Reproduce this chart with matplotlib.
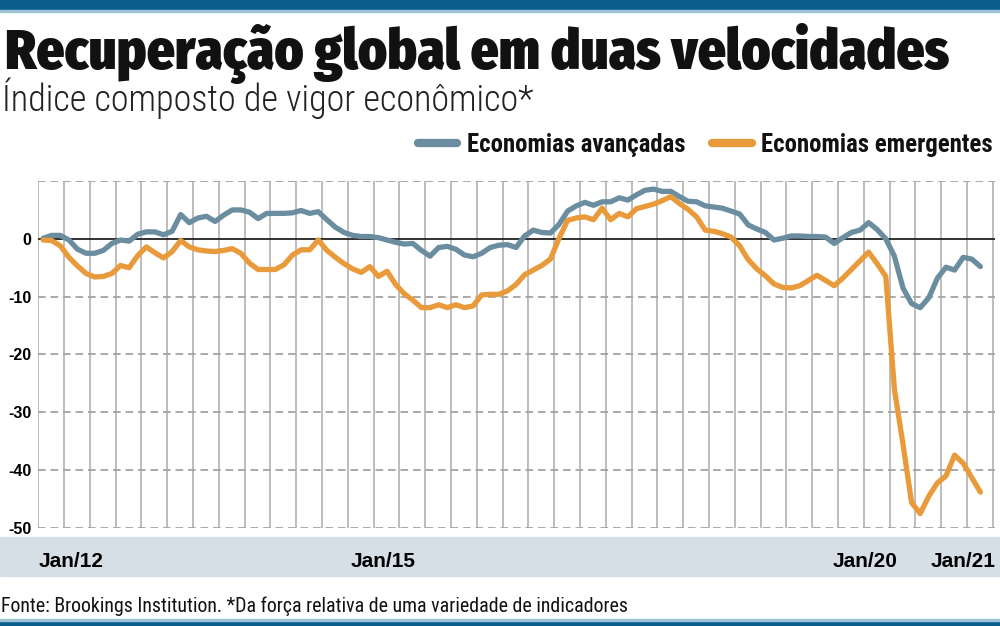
import os
import matplotlib
matplotlib.use("Agg")
import matplotlib.pyplot as plt
from matplotlib import font_manager as fm
from matplotlib.lines import Line2D
from matplotlib.patches import Rectangle
import numpy as np

# indice mensal, jan/2012 a fev/2021
avancadas = [0.1, 0.6, 0.6, -0.2, -1.8, -2.5, -2.5, -2.0, -0.8, -0.2,
             -0.4, 0.8, 1.2, 1.2, 0.7, 1.3, 4.2, 2.8, 3.6, 3.9,
             3.0, 4.1, 5.0, 5.0, 4.6, 3.5, 4.4, 4.4, 4.4, 4.5,
             4.9, 4.4, 4.7, 3.3, 2.0, 1.1, 0.6, 0.4, 0.4, 0.2,
             -0.2, -0.6, -0.9, -0.8, -2.0, -3.0, -1.5, -1.3, -1.8, -2.8,
             -3.1, -2.5, -1.5, -1.1, -1.0, -1.5, 0.5, 1.5, 1.1, 1.0,
             2.5, 4.8, 5.7, 6.3, 5.8, 6.4, 6.4, 7.1, 6.7, 7.6,
             8.4, 8.6, 8.2, 8.2, 7.3, 6.5, 6.4, 5.7, 5.5, 5.3,
             4.8, 4.3, 2.4, 1.7, 1.1, -0.2, 0.1, 0.5, 0.5, 0.4,
             0.4, 0.3, -0.8, 0.2, 1.1, 1.5, 2.8, 1.6, 0.0, -3.0,
             -8.5, -11.2, -11.9, -10.2, -6.8, -4.9, -5.4, -3.2, -3.5, -4.8]

emergentes = [-0.2, -0.3, -1.2, -3.2, -4.7, -6.0, -6.6, -6.5, -6.0, -4.6,
              -5.0, -2.9, -1.4, -2.4, -3.3, -2.2, -0.3, -1.4, -1.9, -2.1,
              -2.2, -2.0, -1.7, -2.5, -4.2, -5.3, -5.3, -5.3, -4.5, -2.8,
              -1.9, -1.9, -0.2, -2.0, -3.2, -4.3, -5.2, -5.8, -4.8, -6.5,
              -5.6, -7.9, -9.5, -10.6, -11.9, -11.9, -11.4, -11.9, -11.4, -11.9,
              -11.6, -9.7, -9.6, -9.6, -9.0, -7.9, -6.2, -5.4, -4.6, -3.5,
              0.1, 3.2, 3.6, 3.8, 3.3, 5.3, 3.3, 4.4, 3.8, 5.2,
              5.6, 6.0, 6.6, 7.3, 6.1, 5.1, 3.8, 1.5, 1.3, 0.9,
              0.3, -1.2, -3.6, -5.2, -6.4, -7.8, -8.4, -8.5, -8.1, -7.2,
              -6.3, -7.2, -8.1, -6.8, -5.3, -3.8, -2.3, -4.3, -6.5, -26.0,
              -35.5, -45.6, -47.5, -44.5, -42.2, -41.0, -37.4, -38.8, -41.3, -43.8]

meses = np.arange(len(avancadas))

y_ticks = [0, -10, -20, -30, -40, -50]
x_labels = ["Jan/12", "Jan/15", "Jan/20", "Jan/21"]
x_label_pos = [3.3, 39.5, 95.6, 107.0]
grid_x = np.arange(-0.56, 111, 3)

azul = "#6a8e9f"
laranja = "#e99a3a"
faixa = "#0c5f8b"

# fontes condensadas instaladas
files = sorted({f.fname for f in fm.fontManager.ttflist})
cond = [p for p in files if any(k in os.path.basename(p) for k in
                                ("Narrow", "Condensed", "Cond"))]


def achar(prefs, fallback_weight):
    for pat in prefs:
        for p in cond:
            if pat in os.path.basename(p):
                return fm.FontProperties(fname=p)
    return fm.FontProperties(family="DejaVu Sans", weight=fallback_weight)


f_title = achar(["FiraSansCondensed-Black.", "BarlowSemiCondensed-Black.",
                 "RobotoCondensed-Bold", "DejaVuSansCondensed-Bold."], "bold")
f_bold = achar(["RobotoCondensed-Bold", "BarlowSemiCondensed-Bold.",
                "DejaVuSansCondensed-Bold."], "bold")
f_light = achar(["RobotoCondensed-Light", "BarlowSemiCondensed-Light.",
                 "DejaVuSansCondensed."], "normal")
f_reg = achar(["RobotoCondensed-Regular", "BarlowSemiCondensed-Regular.",
               "DejaVuSansCondensed."], "normal")

plt.rcParams["lines.scale_dashes"] = False

fig = plt.figure(figsize=(10, 6.26), dpi=100)
W, H = 1000, 626

# barras e faixa de fundo
fig.patches.append(Rectangle((0, 1 - 10 / H), 1, 10 / H, transform=fig.transFigure,
                             color=faixa, zorder=-5))
fig.patches.append(Rectangle((0, 1 - 12 / H), 1, 2 / H, transform=fig.transFigure,
                             color="#9fc3d6", zorder=-5))
fig.patches.append(Rectangle((0, 0), 1, 5 / H, transform=fig.transFigure,
                             color=faixa, zorder=-5))
fig.patches.append(Rectangle((0, 5 / H), 1, 2 / H, transform=fig.transFigure,
                             color="#9fc3d6", zorder=-5))
fig.patches.append(Rectangle((0, 1 - 576 / H), 1, 39 / H, transform=fig.transFigure,
                             color="#d7dfe6", zorder=-5))

ax = fig.add_axes([38.3 / W, 1 - 528 / H, (995 - 38.3) / W, (528 - 181) / H])
ax.set_xlim(-0.56, 110.7)
ax.set_ylim(-50, 10)
for s in ax.spines.values():
    s.set_visible(False)
ax.patch.set_alpha(0)

ax.vlines(grid_x, -50, 10, color="#b8b8b8", lw=1.3, zorder=1)
ax.hlines([10, -10, -20, -30, -40, -50], -0.56, 110.7, color="#a3a3a3", lw=1.3,
          linestyles=(0, (5.5, 3.5)), zorder=1)
ax.axhline(0, color="#222222", lw=1.3, zorder=2)

ax.plot(meses, avancadas, color=azul, lw=3.8, solid_capstyle="round",
        solid_joinstyle="round", zorder=3)
ax.plot(meses, emergentes, color=laranja, lw=3.8, solid_capstyle="round",
        solid_joinstyle="round", zorder=4)

ax.set_yticks(y_ticks)
ax.set_yticklabels([str(v) for v in y_ticks], family="Liberation Sans",
                   fontweight="bold", fontsize=11.5)
ax.tick_params(axis="y", length=0, pad=5)
ax.set_xticks(x_label_pos)
ax.set_xticklabels(x_labels, family="Liberation Sans", fontweight="bold", fontsize=15)
ax.tick_params(axis="x", length=0, pad=17)

fig.text(0.005, 1 - 68.5 / H, "Recuperação global em duas velocidades",
         fontproperties=f_title, fontsize=39.5, va="baseline", color="#111111")
fig.text(0.002, 1 - 111 / H, "Índice composto de vigor econômico*",
         fontproperties=f_light, fontsize=26, va="baseline", color="#222222")

# legenda
for x0, x1, tx, cor, lab in [(418, 457, 467, azul, "Economias avançadas"),
                             (712, 752, 761, laranja, "Economias emergentes")]:
    fig.add_artist(Line2D([x0 / W, x1 / W], [1 - 143 / H] * 2, transform=fig.transFigure,
                          color=cor, lw=6, solid_capstyle="round"))
    fig.text(tx / W, 1 - 152 / H, lab, fontproperties=f_bold,
             fontsize=17.8, va="baseline", color="#111111")

fig.text(0.001, 1 - 611.7 / H,
         "Fonte: Brookings Institution. *Da força relativa de uma variedade de indicadores",
         fontproperties=f_reg, fontsize=14.3, va="baseline", color="#111111")

fig.savefig("out.png", dpi=100)
